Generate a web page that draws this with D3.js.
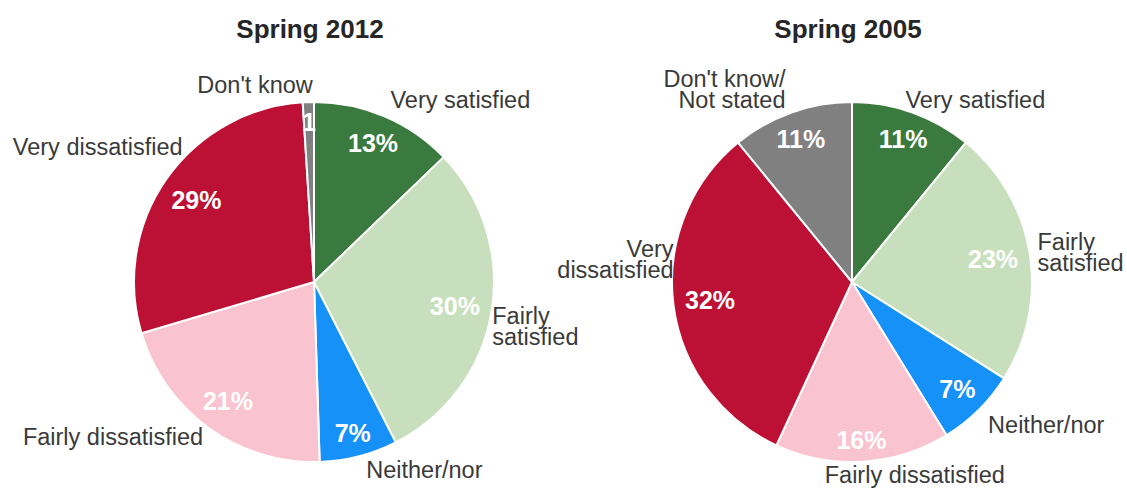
<!DOCTYPE html>
<html>
<head>
<meta charset="utf-8">
<script src="https://cdn.jsdelivr.net/npm/d3@7"></script>
<style>
  html, body { margin: 0; padding: 0; background: #fff; }
  svg { display: block; font-family: "Liberation Sans", Arial, sans-serif; }
</style>
</head>
<body>
<svg id="chart" width="1127" height="488"></svg>
<script>
// ---- data ----
const categories = ["Very satisfied", "Fairly satisfied", "Neither/nor", "Fairly dissatisfied", "Very dissatisfied", "Don't know"];
const values2012 = [12.8, 29.7, 7.0, 20.9, 28.6, 1.0];
const values2005 = [10.9, 23.1, 7.2, 15.7, 32.2, 10.9];
const pctLabels2012 = ["13%", "30%", "7%", "21%", "29%", "1"];
const pctLabels2005 = ["11%", "23%", "7%", "16%", "32%", "11%"];
const catLabels2012 = [["Very satisfied"], ["Fairly", "satisfied"], ["Neither/nor"], ["Fairly dissatisfied"], ["Very dissatisfied"], ["Don't know"]];
const catLabels2005 = [["Very satisfied"], ["Fairly", "satisfied"], ["Neither/nor"], ["Fairly dissatisfied"], ["Very", "dissatisfied"], ["Don't know/", "Not stated"]];
const titles = ["Spring 2012", "Spring 2005"];
const colors = ["#3b7a3e", "#c8dfbe", "#1591f8", "#f9c4d0", "#bd1035", "#808080"];

// ---- layout (label nudges, not data) ----
const labelLayout2012 = [
  { anchor: "start", dx: -1, dy: 0 },
  { anchor: "start", dx: -17, dy: 11 },
  { anchor: "start", dx: 3, dy: -4 },
  { anchor: "end", dx: 5, dy: -6 },
  { anchor: "end", dx: 31, dy: -22 },
  { anchor: "end", dx: 5, dy: 1 }
];
const labelLayout2005 = [
  { anchor: "start", dx: -13, dy: 4 },
  { anchor: "start", dx: -10, dy: 2 },
  { anchor: "start", dx: -3, dy: 2 },
  { anchor: "middle", dx: 51, dy: -5 },
  { anchor: "end", dx: 18, dy: -48 },
  { anchor: "end", dx: 0, dy: -6 }
];

const R = 180;
const pies = [
  { cx: 314, cy: 282, values: values2012, pct: pctLabels2012, cats: catLabels2012, layout: labelLayout2012, title: titles[0] },
  { cx: 852, cy: 282, values: values2005, pct: pctLabels2005, cats: catLabels2005, layout: labelLayout2005, title: titles[1] }
];

const svg = d3.select("#chart");
const pie = d3.pie().sort(null).value(d => d);
const arc = d3.arc().innerRadius(0).outerRadius(R);
const color = d3.scaleOrdinal().domain(categories).range(colors);

const labelFont = 23.5, pctFont = 25, lineH = 21;

pies.forEach(p => {
  svg.append("text")
    .attr("x", p.cx - 4).attr("y", 38)
    .attr("text-anchor", "middle")
    .attr("font-size", 26).attr("font-weight", "bold")
    .attr("fill", "#262626")
    .text(p.title);

  const g = svg.append("g").attr("transform", `translate(${p.cx},${p.cy})`);
  const arcs = pie(p.values);

  g.selectAll("path.slice").data(arcs).join("path")
    .attr("class", "slice")
    .attr("d", arc)
    .attr("fill", (d, i) => color(categories[i]))
    .attr("stroke", "#fff").attr("stroke-width", 2).attr("stroke-linejoin", "round");

  // inner percentage labels
  g.selectAll("text.pct").data(arcs).join("text")
    .attr("class", "pct")
    .attr("text-anchor", "middle")
    .attr("font-size", pctFont).attr("font-weight", "bold")
    .attr("fill", "#fff")
    .text((d, i) => p.pct[i])
    .each(function (d) {
      const w = this.getComputedTextLength();
      const a = (d.startAngle + d.endAngle) / 2;
      const s = Math.sin(a), c = Math.cos(a);
      const r = (R - 11) - (Math.abs(s) * w / 2 + Math.abs(c) * 9);
      d3.select(this).attr("x", s * r).attr("y", -c * r).attr("dy", "0.36em");
    });

  // outer category labels
  arcs.forEach((d, i) => {
    const a = (d.startAngle + d.endAngle) / 2;
    const rr = R + 18;
    const lay = p.layout[i];
    const x = Math.sin(a) * rr + lay.dx;
    const y = -Math.cos(a) * rr + lay.dy;
    const lines = p.cats[i];
    const t = g.append("text")
      .attr("text-anchor", lay.anchor)
      .attr("font-size", labelFont)
      .attr("fill", "#3a3a3a");
    const y0 = y - (lines.length - 1) * lineH / 2;
    lines.forEach((ln, k) => {
      t.append("tspan").attr("x", x).attr("y", y0 + k * lineH).attr("dy", "0.35em").text(ln);
    });
  });
});
</script>
</body>
</html>
